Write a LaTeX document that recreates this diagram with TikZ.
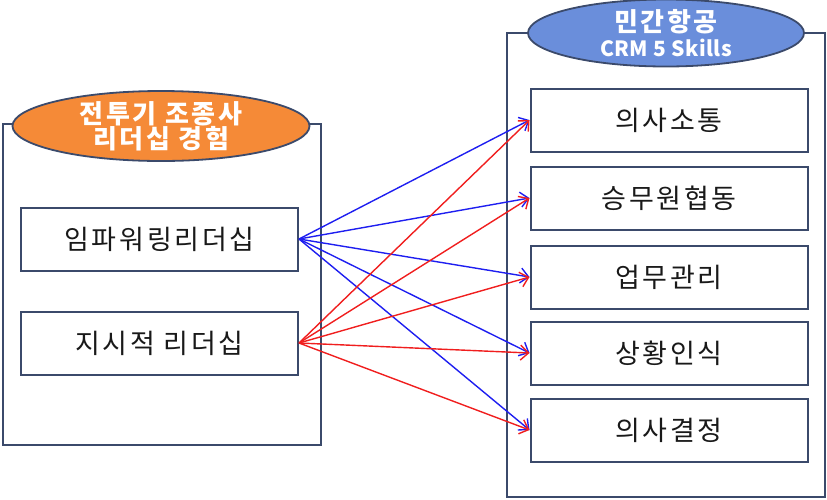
\documentclass[tikz,border=0pt]{standalone}
\usepackage{fontspec}
\newfontfamily\kfont{Noto Sans CJK KR}
\usetikzlibrary{arrows.meta,shapes.geometric}

\definecolor{framec}{HTML}{3B4A6B}
\definecolor{orangec}{HTML}{F58A37}
\definecolor{bluec}{HTML}{6A8EDB}
\definecolor{linkblue}{HTML}{1E1EF0}
\definecolor{linkred}{HTML}{F01E1E}

\tikzset{
	frame/.style={draw=framec, line width=2},
	itembox/.style={draw=framec, line width=2, fill=white, minimum width=277, minimum height=63, inner sep=0,
		font=\kfont\fontsize{27}{30}\selectfont\addfontfeature{LetterSpace=10}, text=black!90},
	title/.style={shape=ellipse, draw=framec, line width=1.8, inner sep=0, align=center, text=white,
		font=\kfont\bfseries\fontsize{26}{25}\selectfont\addfontfeature{LetterSpace=10}},
	link/.style={line width=1.4, -{Straight Barb[length=8,width=15]}},
}

\begin{document}
\begin{tikzpicture}[x=1pt, y=-1pt]
	\useasboundingbox (0,0) rectangle (827,499);
	%%%%% LEFT %%%%%
	\draw[frame] (3,124) rectangle (321,445);
	\node[title, fill=orangec, minimum width=297, minimum height=63] (lefthead) at (161,126)
		{전투기 조종사\\리더십 경험};
	\node[itembox] (e1) at (159.5,239) {임파워링리더십};
	\node[itembox] (e2) at (159.5,343) {지시적 리더십};
	
	%%%%% RIGHT %%%%%
	\draw[frame] (507,33) rectangle (825,497);
	\node[title, fill=bluec, minimum width=276, minimum height=63] (righthead) at (666,33)
		{민간항공\\\fontsize{21}{25}\selectfont\addfontfeature{LetterSpace=2}CRM 5 Skills};
	\node[itembox] (r1) at (669,120) {의사소통};
	\node[itembox] (r2) at (669,198) {승무원협동};
	\node[itembox] (r3) at (669,277) {업무관리};
	\node[itembox] (r4) at (669,353) {상황인식};
	\node[itembox] (r5) at (669,430) {의사결정};
	
	%%%%% LINKS %%%%%
	\foreach \i in {1,...,5}
		\draw[link, linkblue] (e1.east) -- (r\i.west);
	\foreach \i in {1,...,5}
		\draw[link, linkred] (e2.east) -- (r\i.west);
\end{tikzpicture}
\end{document}
